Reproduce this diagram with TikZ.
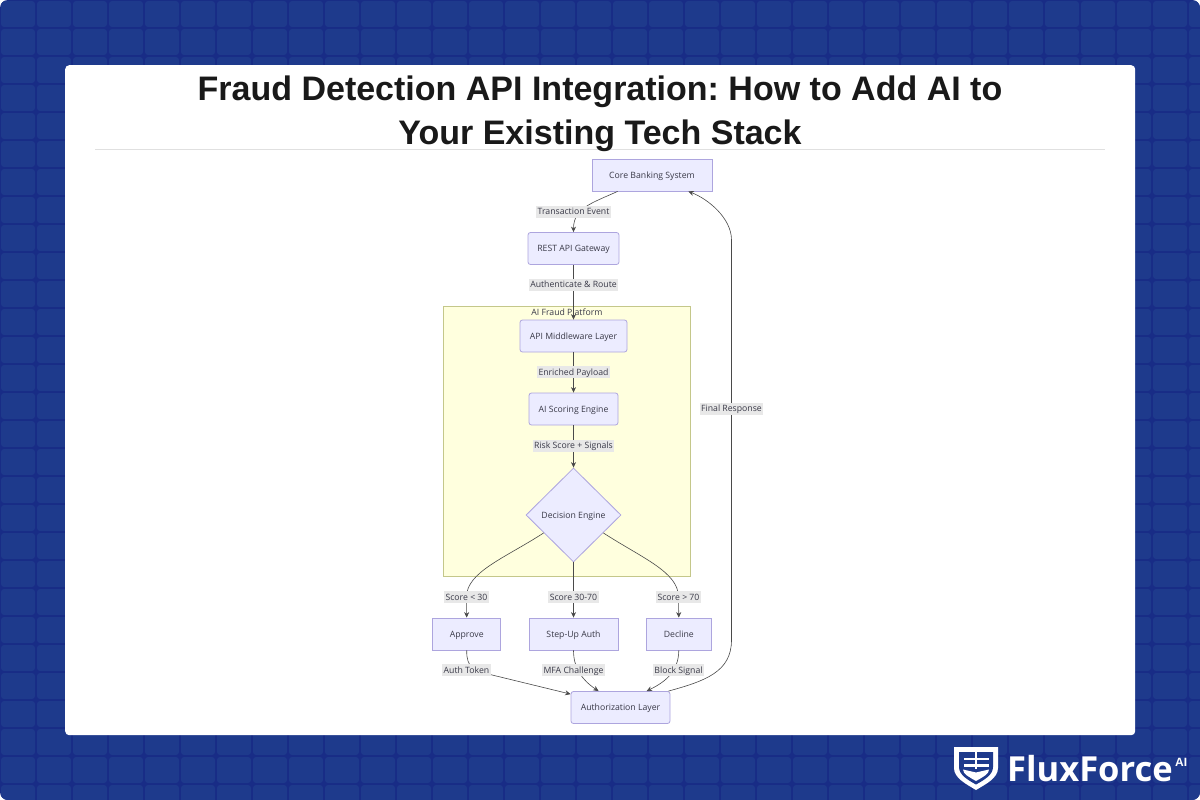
\documentclass[tikz,border=0pt]{standalone}
\usepackage{fontspec}
\setmainfont{Liberation Sans}
\newfontfamily\flowfont{Open Sans}
\usetikzlibrary{shapes.geometric}
\usetikzlibrary{positioning}
\usetikzlibrary{arrows.meta}
\definecolor{bgdark}{HTML}{182C86}
\definecolor{bgcell}{HTML}{1E3A8C}
\definecolor{nodefill}{HTML}{ECECFF}
\definecolor{nodeline}{HTML}{ADA5DE}
\definecolor{flowtext}{HTML}{3A3A48}
\definecolor{labelfill}{HTML}{E8E8E8}
\definecolor{platfill}{HTML}{FFFFDE}
\definecolor{platline}{HTML}{C4C78A}
\definecolor{edgeline}{HTML}{4A4A4A}
\tikzstyle{cell}=[fill=bgcell,rounded corners=3]
\tikzstyle{flowtype}=[text=flowtext,text height=7.5pt,text depth=1.5pt,font=\flowfont\fontsize{8.7}{10}\selectfont]
\tikzstyle{box}=[rectangle,flowtype,draw=nodeline,fill=nodefill,line width=0.8,minimum height=32,inner sep=0]
\tikzstyle{rbox}=[box,rounded corners=2.5]
\tikzstyle{choice}=[diamond,flowtype,draw=nodeline,fill=nodefill,line width=0.8,minimum width=95,minimum height=94,inner sep=0]
\tikzstyle{edgelabel}=[flowtype,fill=labelfill,inner sep=1.5]
\tikzstyle{arrow}=[->,>={Stealth[length=5.5,width=5]},draw=edgeline,line width=0.6]

\begin{document}
\frenchspacing
\begin{tikzpicture}[x=1pt,y=-1pt]
	\useasboundingbox (0,0) rectangle (1200,800);
	% backdrop
	\fill[white] (0,0) rectangle (1200,800);
	\fill[bgdark,rounded corners=8] (0,0) rectangle (1200,800);
	\begin{scope}
		\clip[rounded corners=8] (0,0) rectangle (1200,800);
		\foreach \i in {0,...,33}
			\foreach \j in {0,...,28}
				\fill[cell] (36*\i+1,28*\j+1) rectangle (36*\i+35,28*\j+27);
	\end{scope}
	\node (card) [fill=white,rounded corners=4,minimum width=1070,minimum height=670,inner sep=0,anchor=north west] at (65,65) {};
	\coordinate (ruleleft) at (95,149);
	\coordinate (ruleright) at (1105,149);
	\draw[draw=black!12,line width=0.8] (ruleleft) -- (ruleright);
	\node (title) [align=center,text=black!90,font=\bfseries\fontsize{34}{44}\selectfont,inner sep=0] at (600,114) {Fraud Detection API Integration: How to Add AI to\\Your Existing Tech Stack};

	% platform
	\node (platform) [draw=platline,fill=platfill,line width=0.8,minimum width=247,minimum height=270,inner sep=0,anchor=north west] at (443,306) {};
	\node (platformlabel) [flowtype,inner sep=0,below=2pt of platform.north] {AI Fraud Platform};

	% flow
	\node (core) [box,minimum width=120] at (652,175) {Core Banking System};
	\node (gateway) [rbox,minimum width=91] at (573.5,248.5) {REST API Gateway};
	\node (middleware) [rbox,minimum width=107,below=54.7pt of gateway] {API Middleware Layer};
	\node (scoring) [rbox,minimum width=89,below=40.2pt of middleware] {AI Scoring Engine};
	\node (decision) [choice,below=42.2pt of scoring] {Decision Engine};
	\node (stepup) [box,minimum width=89,below=55.2pt of decision] {Step-Up Auth};
	\node (approve) [box,minimum width=68,left=27.5pt of stepup] {Approve};
	\node (decline) [box,minimum width=65,right=27.5pt of stepup] {Decline};
	\node (authlayer) [rbox,minimum width=99] at (620.5,707.5) {Authorization Layer};

	% connectors
	\draw[arrow] ([xshift=26]core.south west) .. controls (592,203) and (573.5,208) .. (gateway.north);
	\draw[arrow] (gateway) -- (middleware);
	\draw[arrow] (middleware) -- (scoring);
	\draw[arrow] (scoring) -- (decision);
	\draw[arrow] (decision.211) .. controls (505,558) and (466.5,572) .. (466.5,597) -- (approve.north);
	\draw[arrow] (decision) -- (stepup);
	\draw[arrow] (decision.329) .. controls (642,558) and (678.5,572) .. (678.5,597) -- (decline.north);
	\draw[arrow] (approve.south) .. controls (466.5,668) and (474,670) .. (488,674) -- ([yshift=-3]authlayer.north west);
	\draw[arrow] (stepup.south) .. controls (573.5,668) and (582,680) .. ([xshift=28]authlayer.north west);
	\draw[arrow] (decline.south) .. controls (678.5,672) and (665,682) .. ([xshift=76]authlayer.north west);
	\draw[arrow] ([xshift=-2]authlayer.north east) .. controls (705,681) and (731.5,672) .. (731.5,640) -- (731.5,240) .. controls (731.5,218) and (708,199) .. ([xshift=-24]core.south east);

	% edge labels
	\node (l1) [edgelabel] at (573.5,211.5) {Transaction Event};
	\node (l2) [edgelabel] at (573.5,284.5) {Authenticate \& Route};
	\node (l3) [edgelabel] at (573.5,372) {Enriched Payload};
	\node (l4) [edgelabel] at (573.5,445.5) {Risk Score + Signals};
	\node (l5) [edgelabel] at (466.5,597) {Score < 30};
	\node (l6) [edgelabel] at (573.5,597) {Score 30-70};
	\node (l7) [edgelabel] at (678.5,597) {Score > 70};
	\node (l8) [edgelabel] at (466.5,670) {Auth Token};
	\node (l9) [edgelabel] at (573.5,670) {MFA Challenge};
	\node (l10) [edgelabel] at (678.5,670) {Block Signal};
	\node (l11) [edgelabel] at (731.5,408.5) {Final Response};

	% logo
	\fill[white] (954,747) -- (998,747) -- (998,768) .. controls (998,778) and (986,784) .. (976,790) .. controls (966,784) and (954,778) .. (954,768) -- cycle;
	\fill[bgcell] (959,752) -- (993,752) -- (993,767) .. controls (993,775) and (984,780) .. (976,784.5) .. controls (968,780) and (959,775) .. (959,767) -- cycle;
	\fill[white] (963.5,757.5) rectangle (988.5,760);
	\fill[white] (963.5,764) rectangle (988.5,766.5);
	\fill[white] (975,752) rectangle (977,769);
	\fill[white] (963,769.5) -- (976,772.5) -- (989,769.5) .. controls (989,774) and (983,777) .. (976,781) .. controls (969,777) and (963,774) .. (963,769.5) -- cycle;
	\node (brand) [text=white,inner sep=0,anchor=base west,font=\flowfont\bfseries\fontsize{34.5}{40}\selectfont] at (1007,781) {FluxForce};
	\node (brandai) [text=white,inner sep=0,anchor=base west,font=\bfseries\fontsize{12}{14}\selectfont] at (1175,766) {AI};
\end{tikzpicture}
\end{document}
